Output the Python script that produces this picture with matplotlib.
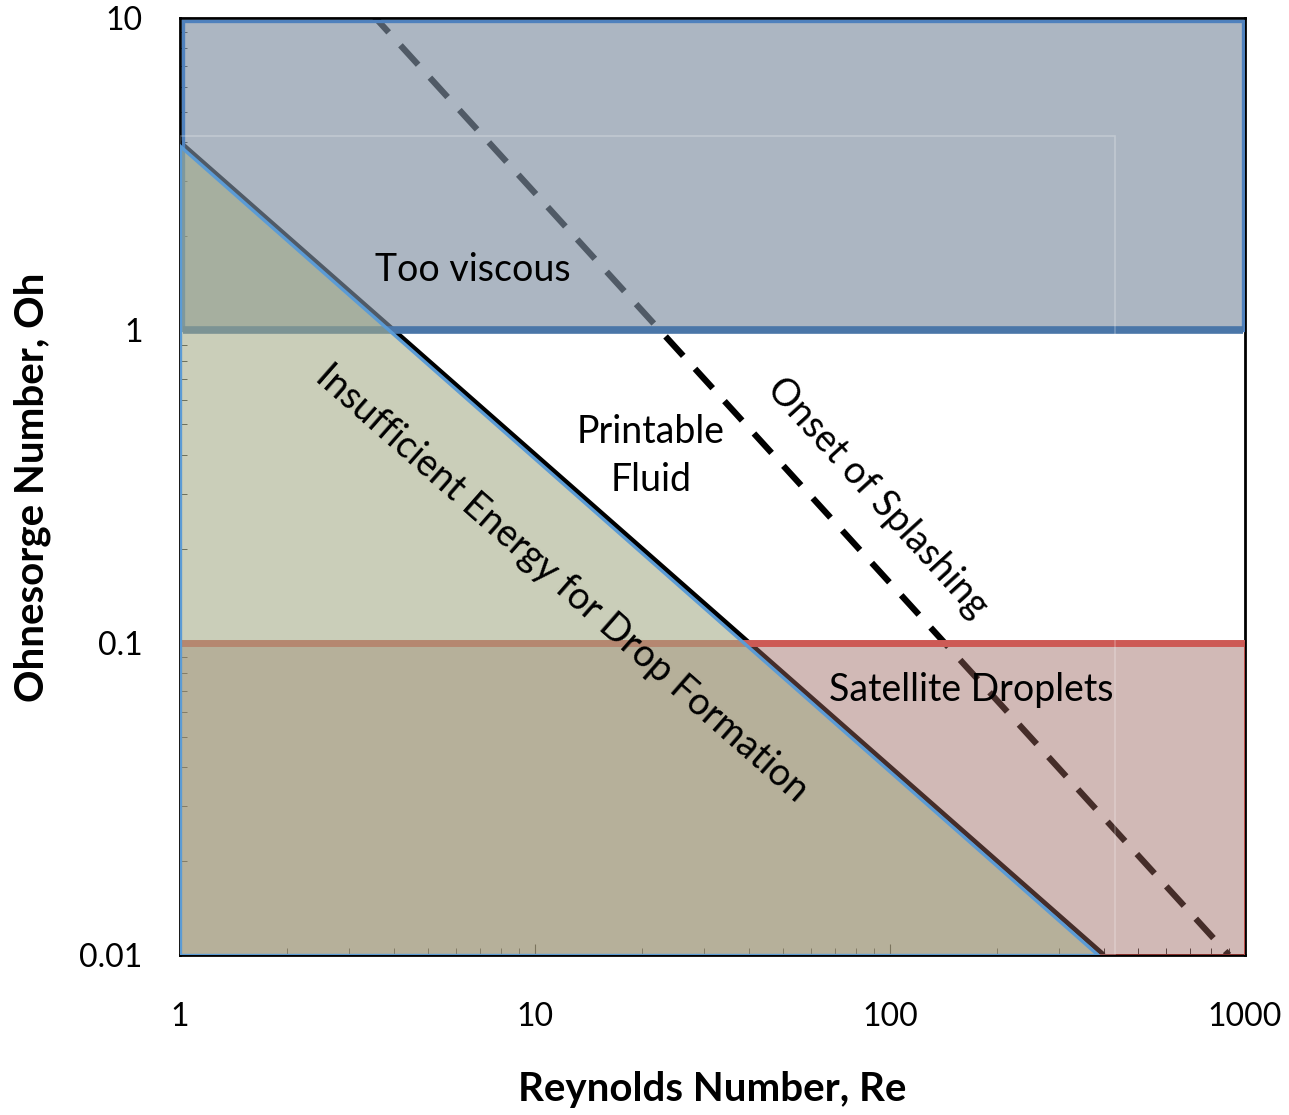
import numpy as np
import matplotlib.pyplot as plt
from matplotlib.patches import Polygon, Rectangle

# regime boundaries (Re, Oh)
re_lims = [1, 1000]
oh_lims = [0.01, 10]
viscous_re = [1.02, 986]
viscous_oh = [1.0, 9.75]
satellite_re = [1, 1000]
satellite_oh = [0.01, 0.1]
energy_re = [1, 1, 385]
energy_oh = [3.9, 0.01, 0.01]
limit_re = [1, 400]
limit_oh = [4.0, 0.01]
splash_re = [3.5, 900]
splash_oh = [10.2, 0.01]
xticks = [1, 10, 100, 1000]
xtick_labels = ['1', '10', '100', '1000']
yticks = [0.01, 0.1, 1, 10]
ytick_labels = ['0.01', '0.1', '1', '10']

plt.rcParams['font.family'] = ['Lato', 'DejaVu Sans']

fig = plt.figure(figsize=(12.89, 11.15), dpi=100)
ax = fig.add_axes([0.1396, 0.1435, 0.8263, 0.8404])
ax.set_xscale('log')
ax.set_yscale('log')
ax.set_xlim(re_lims)
ax.set_ylim(oh_lims)

# lines underneath the shaded regions
ax.plot(limit_re, limit_oh, color='black', lw=3.6, zorder=1, solid_capstyle='butt')
ax.plot(splash_re, splash_oh, color='black', lw=4.5, ls=(0.5, (4.2, 2.8)), zorder=1)

# too viscous
ax.add_patch(Rectangle((viscous_re[0], viscous_oh[0]), viscous_re[1] - viscous_re[0],
                       viscous_oh[1] - viscous_oh[0],
                       facecolor=(126/255, 142/255, 160/255, 0.64),
                       edgecolor='#4F81BD', lw=2.4, zorder=2))
ax.plot(viscous_re, [viscous_oh[0]] * 2, color='#4A76A8', lw=5.5, zorder=2.1,
        solid_capstyle='butt')

# satellite droplets
ax.add_patch(Rectangle((satellite_re[0], satellite_oh[0]), satellite_re[1] - satellite_re[0],
                       satellite_oh[1] - satellite_oh[0],
                       facecolor=(155/255, 100/255, 93/255, 0.45),
                       edgecolor='#8B2E2A', lw=2.0, zorder=2))
ax.plot(satellite_re, [satellite_oh[1]] * 2, color='#CD5A55', lw=5, zorder=2.1,
        solid_capstyle='butt')
ax.plot([satellite_re[1]] * 2, satellite_oh, color='#C0504D', lw=2, zorder=2.1)

# faint inner frame seen in the original
ax.add_patch(Rectangle((1, 0.01), 429, 4.19, facecolor='none',
                       edgecolor='white', lw=1.2, alpha=0.25, zorder=2.2))

# insufficient energy triangle
ax.add_patch(Polygon(list(zip(energy_re, energy_oh)), closed=True,
                     facecolor=(163/255, 170/255, 133/255, 0.57),
                     edgecolor='#5B9BD5', lw=2.4, zorder=3))

# labels
fs = 27
ax.text(6.7, 1.56, 'Too viscous', fontsize=fs, ha='center', va='center', zorder=5)
ax.text(21.2, 0.395, 'Printable\nFluid', fontsize=fs, ha='center', va='center',
        linespacing=1.42, zorder=5)
ax.text(11.9, 0.155, 'Insufficient Energy for Drop Formation', fontsize=fs,
        rotation=-41.3, ha='center', va='center', rotation_mode='anchor', zorder=5)
ax.text(92.5, 0.292, 'Onset of Splashing', fontsize=fs, rotation=-47.7,
        ha='center', va='center', rotation_mode='anchor', zorder=5)
ax.text(169, 0.0705, 'Satellite Droplets', fontsize=fs, ha='center', va='center', zorder=5)

ax.set_xticks(xticks)
ax.set_xticklabels(xtick_labels)
ax.set_yticks(yticks)
ax.set_yticklabels(ytick_labels)
ax.tick_params(axis='both', which='both', direction='in', labelsize=23, colors='black')
ax.tick_params(axis='x', which='major', length=8, pad=34)
ax.tick_params(axis='y', which='major', length=8, pad=27)
ax.tick_params(which='minor', length=5)

for s in ax.spines.values():
    s.set_linewidth(2)
    s.set_zorder(1.5)

fig.text(712 / 1289, 1 - 1090 / 1115, 'Reynolds Number, Re', fontsize=29,
         fontweight='bold', ha='center', va='center')
fig.text(32 / 1289, 1 - 487 / 1115, 'Ohnesorge Number, Oh', fontsize=29,
         fontweight='bold', ha='center', va='center', rotation=90)

fig.savefig('out.png', dpi=100)
